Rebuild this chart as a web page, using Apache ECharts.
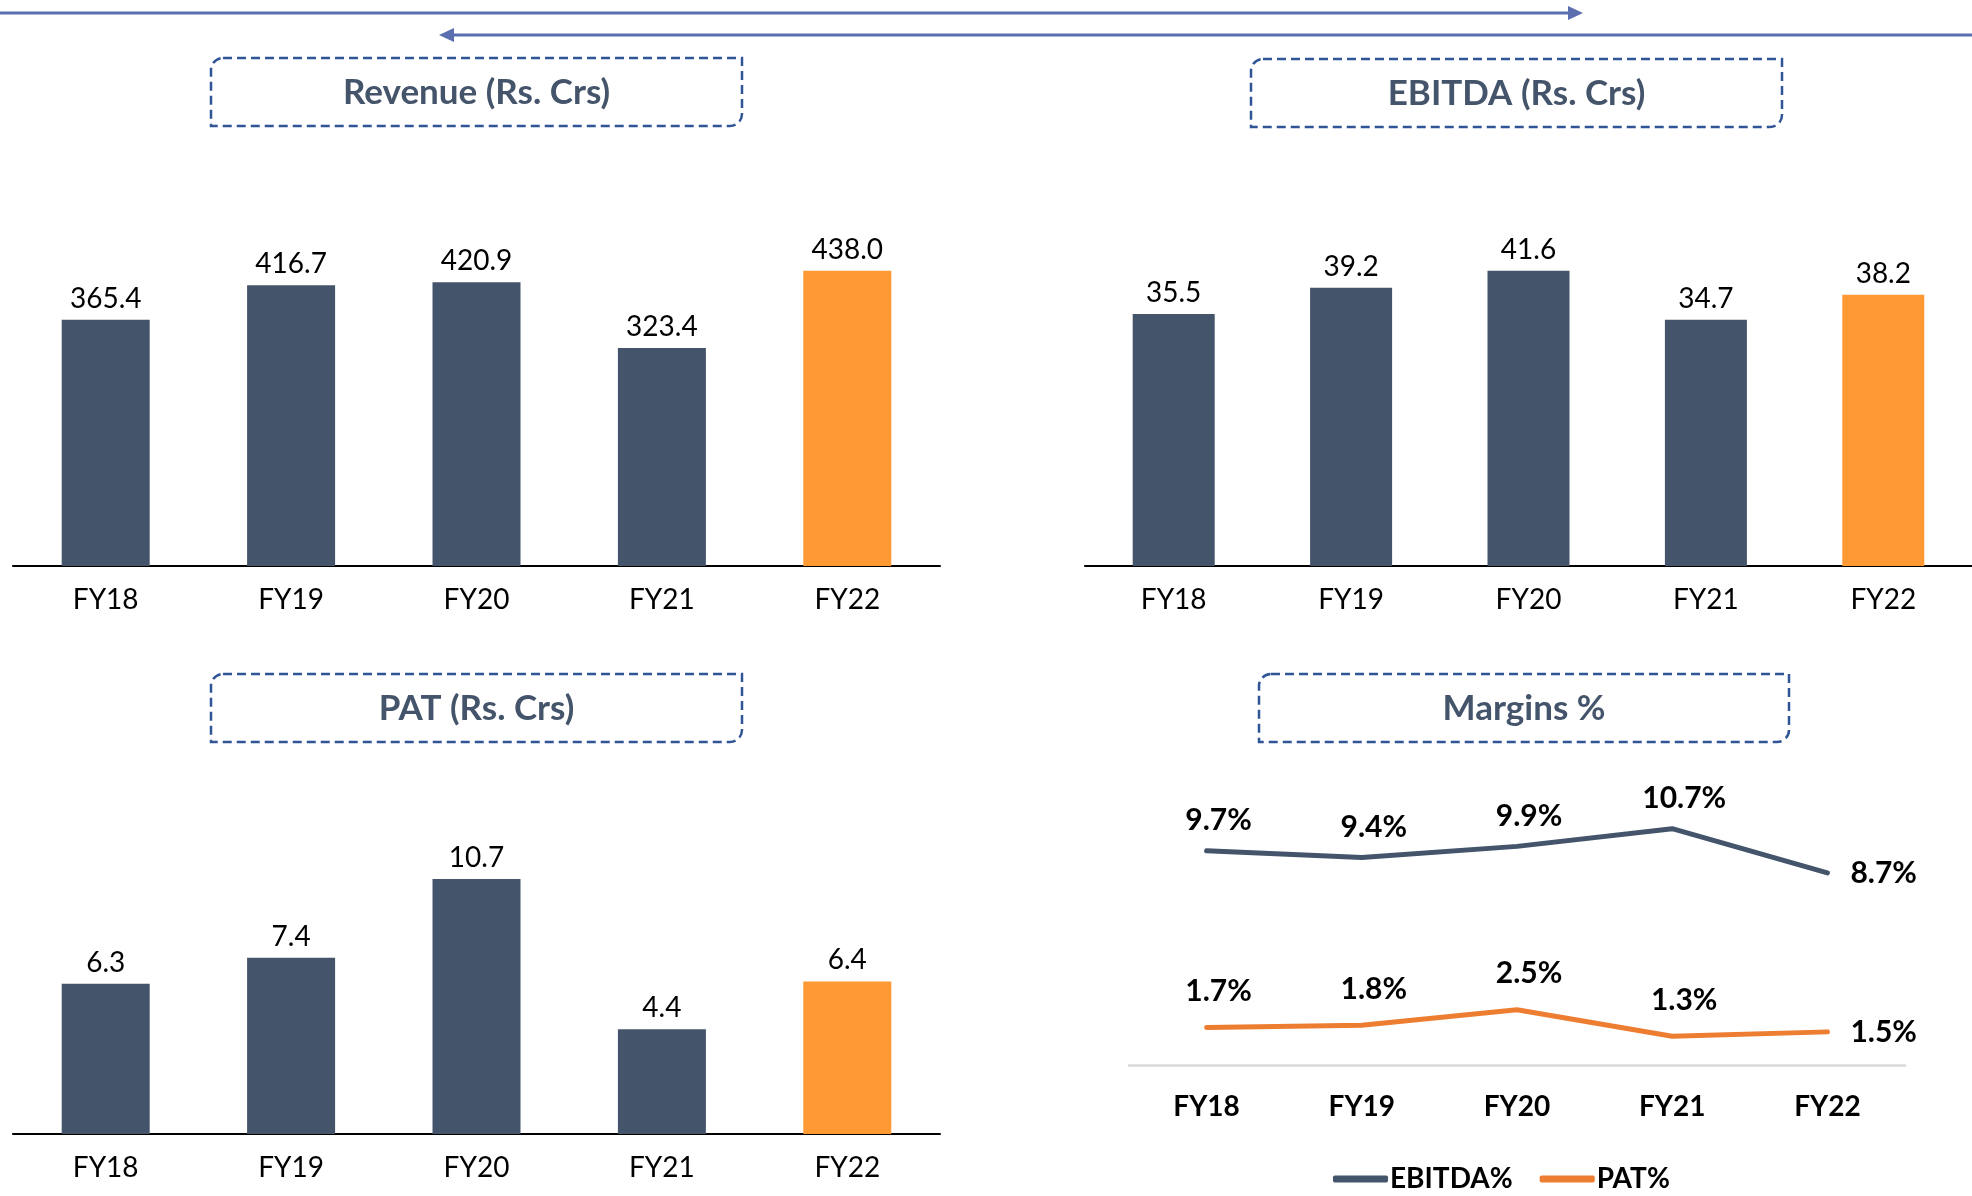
<!DOCTYPE html>
<html>
<head>
<meta charset="utf-8">
<script src="https://cdn.jsdelivr.net/npm/echarts@6/dist/echarts.min.js"></script>
<style>
  body { margin: 0; background: #fff; }
  #chart { width: 1972px; height: 1196px; }
</style>
</head>
<body>
<div id="chart"></div>
<script>
// data
const years = ['FY18', 'FY19', 'FY20', 'FY21', 'FY22'];
const revenue = [365.4, 416.7, 420.9, 323.4, 438.0];
const ebitda = [35.5, 39.2, 41.6, 34.7, 38.2];
const pat = [6.3, 7.4, 10.7, 4.4, 6.4];
const ebitdaMargin = [9.7, 9.4, 9.9, 10.7, 8.7];
const patMargin = [1.7, 1.8, 2.5, 1.3, 1.5];

const DARK = '#44546a';
const ORANGE = '#ff9933';
const FONT = 'Lato';

const chart = echarts.init(document.getElementById('chart'));

// last year gets the orange bar
function barData(arr) {
  return arr.map((v, i) => ({
    value: v,
    itemStyle: { color: i === arr.length - 1 ? ORANGE : DARK }
  }));
}

function lineData(arr, dist) {
  return arr.map((v, i) => {
    const last = i === arr.length - 1;
    return {
      value: v,
      label: last
        ? { position: 'right', distance: 22, offset: [0, 0] }
        : { position: 'top', distance: dist, offset: [12, 0] }
    };
  });
}

function barAxis(gridIndex) {
  return {
    type: 'category',
    gridIndex: gridIndex,
    data: years,
    axisTick: { show: false },
    axisLine: { lineStyle: { color: '#000', width: 2 } },
    axisLabel: { color: '#000', fontSize: 28, fontFamily: FONT, margin: 20 }
  };
}

function hiddenY(gridIndex, max) {
  return {
    type: 'value',
    gridIndex: gridIndex,
    min: 0,
    max: max,
    show: false,
    splitLine: { show: false }
  };
}

function barSeries(name, idx, arr, width) {
  return {
    name: name,
    type: 'bar',
    xAxisIndex: idx,
    yAxisIndex: idx,
    barWidth: width,
    data: barData(arr),
    label: {
      show: true,
      position: 'top',
      distance: 7,
      color: '#000',
      fontSize: 28,
      fontFamily: FONT,
      formatter: p => p.value.toFixed(1)
    }
  };
}

function titleBox(text, x, y, w, h) {
  return {
    type: 'group',
    children: [
      {
        type: 'rect',
        shape: { x: x, y: y, width: w, height: h, r: [12, 0, 12, 0] },
        style: { fill: 'none', stroke: '#2f5597', lineWidth: 2.5, lineDash: [9, 5] }
      },
      {
        type: 'text',
        style: {
          text: text,
          x: x + w / 2,
          y: y + h / 2 + 1,
          align: 'center',
          verticalAlign: 'middle',
          textAlign: 'center',
          textVerticalAlign: 'middle',
          font: 'bold 35px Lato',
          fill: DARK
        }
      }
    ]
  };
}

function marginLabel() {
  return {
    show: true,
    color: '#000',
    fontSize: 30,
    fontWeight: 'bold',
    fontFamily: FONT,
    formatter: p => p.value.toFixed(1) + '%'
  };
}

const arrowColor = '#5b6fb0';

const option = {
  animation: false,
  textStyle: { fontFamily: FONT },
  grid: [
    { left: 13, top: 229, width: 927, height: 337 },
    { left: 1085, top: 211, width: 890, height: 355 },
    { left: 13, top: 848, width: 927, height: 286 },
    { left: 1129, top: 800, width: 776, height: 265 }
  ],
  xAxis: [
    barAxis(0),
    barAxis(1),
    barAxis(2),
    {
      type: 'category',
      gridIndex: 3,
      data: years,
      axisTick: { show: false },
      axisLine: { lineStyle: { color: '#d9d9d9', width: 2.5 } },
      axisLabel: { color: '#000', fontSize: 28, fontWeight: 'bold', fontFamily: FONT, margin: 28 }
    }
  ],
  yAxis: [
    hiddenY(0, 500),
    hiddenY(1, 50),
    hiddenY(2, 12),
    hiddenY(3, 12)
  ],
  legend: {
    data: ['EBITDA%', 'PAT%'],
    left: 1328,
    top: 1160,
    icon: 'roundRect',
    itemWidth: 55,
    itemHeight: 7,
    itemGap: 27,
    textStyle: { color: '#000', fontSize: 28, fontWeight: 'bold', fontFamily: FONT, padding: [0, 0, 0, -3] }
  },
  series: [
    barSeries('Revenue', 0, revenue, 88),
    barSeries('EBITDA', 1, ebitda, 82),
    barSeries('PAT', 2, pat, 88),
    {
      name: 'EBITDA%',
      type: 'line',
      xAxisIndex: 3,
      yAxisIndex: 3,
      data: lineData(ebitdaMargin, 14),
      symbol: 'circle',
      symbolSize: 2,
      itemStyle: { color: DARK },
      lineStyle: { color: DARK, width: 5, cap: 'round', join: 'round' },
      label: marginLabel()
    },
    {
      name: 'PAT%',
      type: 'line',
      xAxisIndex: 3,
      yAxisIndex: 3,
      data: lineData(patMargin, 20),
      symbol: 'circle',
      symbolSize: 2,
      itemStyle: { color: '#ed7d31' },
      lineStyle: { color: '#ed7d31', width: 5, cap: 'round', join: 'round' },
      label: marginLabel()
    }
  ],
  graphic: [
    // the two arrows across the top of the slide
    { type: 'line', shape: { x1: 0, y1: 13, x2: 1570, y2: 13 }, style: { stroke: arrowColor, lineWidth: 3 } },
    { type: 'polygon', shape: { points: [[1583, 13], [1568, 6], [1568, 20]] }, style: { fill: arrowColor } },
    { type: 'line', shape: { x1: 452, y1: 35, x2: 1972, y2: 35 }, style: { stroke: arrowColor, lineWidth: 3 } },
    { type: 'polygon', shape: { points: [[439, 35], [454, 28], [454, 42]] }, style: { fill: arrowColor } },
    titleBox('Revenue (Rs. Crs)', 211, 58, 531, 68),
    titleBox('EBITDA (Rs. Crs)', 1251, 59, 531, 68),
    titleBox('PAT (Rs. Crs)', 211, 674, 531, 68),
    titleBox('Margins %', 1259, 674, 530, 68)
  ]
};

chart.setOption(option);
</script>
</body>
</html>
